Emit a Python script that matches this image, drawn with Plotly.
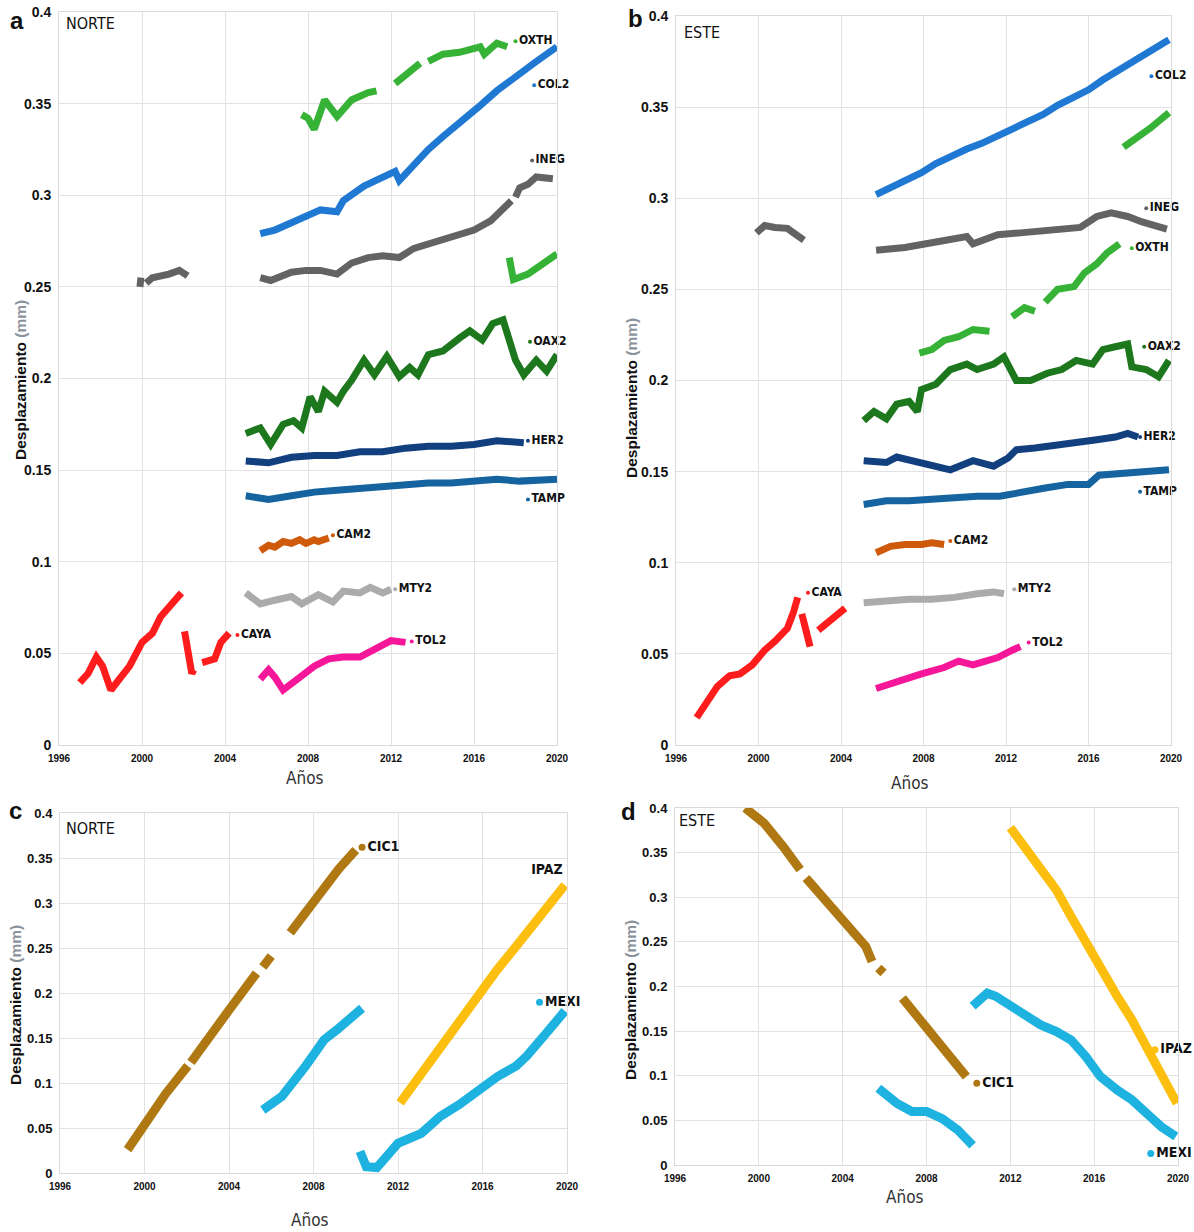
import plotly.graph_objects as go

# ---------------- axis ticks ----------------
YEAR_TICKS = [1996, 2000, 2004, 2008, 2012, 2016, 2020]
DISP_TICKS = [0, 0.05, 0.1, 0.15, 0.2, 0.25, 0.3, 0.35, 0.4]
DISP_TICK_TEXT = ["0", "0.05", "0.1", "0.15", "0.2", "0.25", "0.3", "0.35", "0.4"]

# ---------------- panel a (NORTE) ----------------
A_CAYA_YR = [1997.0, 1997.4, 1997.8, 1998.1, 1998.5, 1998.9, 1999.4, 2000.0, 2000.5, 2000.9, 2001.4, 2001.9,
             None, 2002.05, 2002.2, 2002.4, 2002.5, None, 2002.9, 2003.5, 2003.8, 2004.2]
A_CAYA_MM = [0.034, 0.039, 0.048, 0.043, 0.030, 0.036, 0.043, 0.056, 0.061, 0.070, 0.076, 0.083,
             None, 0.062, 0.050, 0.039, 0.041, None, 0.045, 0.047, 0.056, 0.061]
A_TOL2_YR = [2005.7, 2006.1, 2006.4, 2006.8, 2007.5, 2008.3, 2009.0, 2009.7, 2010.5, 2011.2, 2012.0, 2012.7]
A_TOL2_MM = [0.036, 0.041, 0.037, 0.030, 0.036, 0.043, 0.047, 0.048, 0.048, 0.052, 0.057, 0.056]
A_MTY2_YR = [2005.0, 2005.7, 2006.4, 2007.2, 2007.7, 2008.5, 2009.2, 2009.7, 2010.5, 2011.0, 2011.6, 2012.0]
A_MTY2_MM = [0.083, 0.077, 0.079, 0.081, 0.077, 0.082, 0.078, 0.084, 0.083, 0.086, 0.083, 0.085]
A_CAM2_YR = [2005.7, 2006.1, 2006.4, 2006.8, 2007.2, 2007.6, 2007.9, 2008.3, 2008.5, 2009.0]
A_CAM2_MM = [0.106, 0.109, 0.108, 0.111, 0.110, 0.112, 0.110, 0.112, 0.111, 0.113]
A_TAMP_YR = [2005.0, 2006.1, 2007.2, 2008.3, 2009.4, 2010.5, 2011.6, 2012.7, 2013.8, 2014.9, 2016.0, 2017.1, 2018.2, 2020.0]
A_TAMP_MM = [0.136, 0.134, 0.136, 0.138, 0.139, 0.140, 0.141, 0.142, 0.143, 0.143, 0.144, 0.145, 0.144, 0.145]
A_HER2_YR = [2005.0, 2006.1, 2007.2, 2008.3, 2009.4, 2010.5, 2011.6, 2012.7, 2013.8, 2014.9, 2016.0, 2017.1, 2018.4]
A_HER2_MM = [0.155, 0.154, 0.157, 0.158, 0.158, 0.160, 0.160, 0.162, 0.163, 0.163, 0.164, 0.166, 0.165]
A_OAX2_YR = [2005.0, 2005.7, 2006.2, 2006.8, 2007.3, 2007.7, 2008.1, 2008.5, 2008.8, 2009.4, 2009.7, 2010.1,
             2010.7, 2011.2, 2011.8, 2012.4, 2012.9, 2013.3, 2013.8, 2014.5, 2015.3, 2015.8, 2016.4, 2016.9,
             2017.4, 2017.7, 2018.0, 2018.4, 2019.0, 2019.5, 2020.0]
A_OAX2_MM = [0.170, 0.173, 0.164, 0.175, 0.177, 0.173, 0.190, 0.182, 0.193, 0.187, 0.193, 0.199,
             0.210, 0.202, 0.212, 0.201, 0.206, 0.202, 0.213, 0.215, 0.222, 0.226, 0.221, 0.230,
             0.232, 0.221, 0.210, 0.202, 0.210, 0.204, 0.213]
A_INEG_YR = [1999.9, 1999.95, None, 2000.2, 2000.5, 2001.3, 2001.8, 2002.2, None,
             2005.7, 2006.2, 2007.2, 2007.9, 2008.6, 2009.4, 2010.1, 2010.9, 2011.6, 2012.4, 2013.1, 2013.8,
             2014.5, 2015.3, 2016.0, 2016.8, 2017.3, 2017.8, None, 2018.0, 2018.2, 2018.6, 2019.0, 2019.8]
A_INEG_MM = [0.250, 0.255, None, 0.252, 0.255, 0.257, 0.259, 0.256, None,
             0.255, 0.2535, 0.258, 0.259, 0.259, 0.257, 0.263, 0.266, 0.267, 0.266, 0.271, 0.2735,
             0.275, 0.278, 0.281, 0.286, 0.292, 0.297, None, 0.299, 0.304, 0.306, 0.310, 0.309]
A_COL2_YR = [2005.7, 2006.4, 2007.2, 2007.9, 2008.6, 2009.4, 2009.7, 2010.7, 2011.6, 2012.2, 2012.4, 2013.1,
             2013.8, 2014.5, 2015.3, 2016.2, 2017.1, 2018.0, 2019.0, 2020.0]
A_COL2_MM = [0.279, 0.281, 0.285, 0.288, 0.292, 0.291, 0.297, 0.305, 0.310, 0.313, 0.308, 0.317,
             0.325, 0.332, 0.339, 0.348, 0.357, 0.365, 0.373, 0.381]
A_OXTH_YR = [2007.7, 2008.0, 2008.3, 2008.8, 2009.4, 2010.1, 2010.9, 2011.3, None,
             2012.2, 2012.7, 2013.4, None, 2013.8, 2014.5, 2015.3, 2016.3, 2016.5, 2017.1, 2017.6, None,
             2017.7, 2017.9, 2018.6, 2019.3, 2020.0]
A_OXTH_MM = [0.344, 0.342, 0.336, 0.352, 0.343, 0.352, 0.356, 0.357, None,
             0.361, 0.366, 0.372, None, 0.373, 0.377, 0.378, 0.381, 0.377, 0.383, 0.381, None,
             0.266, 0.254, 0.257, 0.263, 0.268]
A_LABEL_NAMES = ["OXTH", "COL2", "INEG", "OAX2", "HER2", "TAMP", "CAM2", "MTY2", "CAYA", "TOL2"]
A_LABEL_YR = [2018.0, 2018.9, 2018.8, 2018.7, 2018.6, 2018.6, 2009.2, 2012.2, 2004.6, 2013.0]
A_LABEL_MM = [0.384, 0.360, 0.319, 0.220, 0.166, 0.134, 0.1145, 0.085, 0.060, 0.0565]

# ---------------- panel b (ESTE) ----------------
B_CAYA_YR = [1997.0, 1997.5, 1998.0, 1998.6, 1999.1, 1999.7, 2000.3, 2000.8, 2001.4, 2001.7, 2001.9,
             None, 2002.1, 2002.3, 2002.5, None, 2002.9, 2003.4, 2003.9, 2004.2]
B_CAYA_MM = [0.015, 0.024, 0.032, 0.038, 0.039, 0.044, 0.052, 0.057, 0.064, 0.073, 0.081,
             None, 0.072, 0.063, 0.054, None, 0.063, 0.068, 0.072, 0.075]
B_TOL2_YR = [2005.7, 2006.7, 2007.9, 2009.0, 2009.7, 2010.4, 2011.6, 2012.3, 2012.7]
B_TOL2_MM = [0.031, 0.035, 0.039, 0.0425, 0.046, 0.044, 0.048, 0.052, 0.054]
B_MTY2_YR = [2005.1, 2006.2, 2007.3, 2008.4, 2009.5, 2010.6, 2011.4, 2011.9]
B_MTY2_MM = [0.078, 0.079, 0.080, 0.080, 0.081, 0.083, 0.084, 0.083]
B_CAM2_YR = [2005.7, 2006.4, 2007.1, 2007.9, 2008.4, 2009.0]
B_CAM2_MM = [0.1055, 0.109, 0.110, 0.110, 0.111, 0.110]
B_TAMP_YR = [2005.1, 2006.2, 2007.3, 2008.4, 2009.5, 2010.6, 2011.7, 2012.8, 2013.9, 2015.0, 2016.0, 2016.5,
             2017.5, 2018.6, 2019.9]
B_TAMP_MM = [0.132, 0.134, 0.134, 0.135, 0.136, 0.1365, 0.1365, 0.139, 0.141, 0.143, 0.143, 0.148,
             0.149, 0.150, 0.151]
B_HER2_YR = [2005.1, 2006.2, 2006.7, 2007.5, 2008.4, 2009.3, 2010.4, 2011.4, 2012.1, 2012.5, 2013.4, 2014.5,
             2015.4, 2016.4, 2017.3, 2017.9, 2018.4]
B_HER2_MM = [0.156, 0.155, 0.158, 0.156, 0.153, 0.151, 0.156, 0.153, 0.1575, 0.162, 0.163, 0.165,
             0.166, 0.1675, 0.169, 0.171, 0.169]
B_OAX2_YR = [2005.1, 2005.6, 2006.2, 2006.7, 2007.3, 2007.7, 2007.9, 2008.6, 2009.3, 2010.1, 2010.6, 2011.4,
             2011.9, 2012.2, 2012.5, 2013.2, 2014.0, 2014.7, 2015.4, 2016.2, 2016.7, 2017.3, 2017.9, 2018.1,
             2018.8, 2019.4, 2019.9]
B_OAX2_MM = [0.178, 0.183, 0.179, 0.187, 0.1885, 0.183, 0.195, 0.198, 0.206, 0.209, 0.206, 0.209,
             0.213, 0.206, 0.200, 0.200, 0.204, 0.206, 0.211, 0.209, 0.217, 0.2185, 0.220, 0.2075,
             0.206, 0.202, 0.211]
B_INEG_YR = [1999.9, 2000.3, 2000.8, 2001.4, 2001.7, 2002.2, None,
             2005.7, 2007.1, 2008.6, 2010.1, 2010.4, 2011.6, 2012.7, 2013.8, 2014.9, 2015.6, 2016.4, 2017.1,
             2017.9, 2018.6, 2019.8]
B_INEG_MM = [0.281, 0.285, 0.284, 0.2835, 0.281, 0.277, None,
             0.2715, 0.273, 0.276, 0.279, 0.275, 0.280, 0.281, 0.282, 0.283, 0.284, 0.290, 0.292,
             0.290, 0.287, 0.283]
B_COL2_YR = [2005.7, 2006.4, 2007.1, 2007.9, 2008.6, 2009.3, 2010.1, 2010.8, 2011.6, 2012.3, 2013.0, 2013.8,
             2014.5, 2015.3, 2016.0, 2016.7, 2017.5, 2018.2, 2019.0, 2019.9]
B_COL2_MM = [0.302, 0.306, 0.309, 0.314, 0.319, 0.323, 0.327, 0.330, 0.334, 0.3375, 0.342, 0.346,
             0.351, 0.356, 0.3595, 0.365, 0.3705, 0.375, 0.380, 0.387]
B_OXTH_YR = [2007.8, 2008.4, 2009.0, 2009.7, 2010.4, 2011.2, None, 2012.3, 2012.9, 2013.4, None,
             2013.9, 2014.5, 2015.3, 2015.8, 2016.4, 2016.9, 2017.5, None, 2017.7, 2018.2, 2019.0, 2019.9]
B_OXTH_MM = [0.215, 0.217, 0.222, 0.224, 0.228, 0.227, None, 0.235, 0.240, 0.238, None,
             0.243, 0.250, 0.2515, 0.259, 0.264, 0.270, 0.275, None, 0.328, 0.332, 0.3385, 0.347]
B_LABEL_NAMES = ["COL2", "INEG", "OXTH", "OAX2", "HER2", "TAMP", "CAM2", "MTY2", "CAYA", "TOL2"]
B_LABEL_YR = [2019.05, 2018.8, 2018.1, 2018.7, 2018.5, 2018.5, 2009.3, 2012.4, 2002.4, 2013.1]
B_LABEL_MM = [0.367, 0.2945, 0.2725, 0.2185, 0.169, 0.139, 0.112, 0.0854, 0.0836, 0.0562]

# ---------------- panel c (NORTE) ----------------
C_CIC1_YR = [1999.2, 2000.0, 2001.0, 2002.05, None, 2002.2, 2003.0, 2004.0, 2005.3, None, 2005.6, 2006.0, None,
             2006.9, 2007.5, 2008.4, 2009.2, 2010.0]
C_CIC1_MM = [0.026, 0.055, 0.088, 0.119, None, 0.123, 0.150, 0.181, 0.222, None, 0.229, 0.241, None,
             0.267, 0.286, 0.315, 0.338, 0.359]
C_MEXI_YR = [2005.6, 2006.5, 2007.6, 2008.5, 2009.1, 2010.3, None,
             2010.2, 2010.5, 2011.0, 2011.3, 2012.0, 2013.1, 2014.0, 2014.9, 2015.8, 2016.7, 2017.6, 2018.1,
             2018.9, 2019.4, 2019.9]
C_MEXI_MM = [0.070, 0.085, 0.118, 0.148, 0.159, 0.183, None,
             0.024, 0.007, 0.006, 0.015, 0.033, 0.044, 0.063, 0.076, 0.093, 0.107, 0.119, 0.130,
             0.152, 0.167, 0.180]
C_IPAZ_YR = [2012.1, 2013.1, 2014.0, 2014.9, 2016.0, 2016.7, 2017.6, 2018.5, 2019.2, 2019.9]
C_IPAZ_MM = [0.078, 0.111, 0.141, 0.167, 0.204, 0.226, 0.252, 0.278, 0.300, 0.320]
C_LABEL_NAMES = ["CIC1", "MEXI"]
C_LABEL_YR = [2010.3, 2018.7]
C_LABEL_MM = [0.362, 0.1896]
C_IPAZ_TITLE_YR = [2019.05]
C_IPAZ_TITLE_MM = [0.336]

# ---------------- panel d (ESTE) ----------------
D_CIC1_YR = [1999.35, 2000.25, 2001.15, 2001.97, None, 2002.25, 2003.3, 2004.4, 2005.1, 2005.4, None,
             2005.7, 2005.95, None, 2006.85, 2007.85, 2008.75, 2009.9]
D_CIC1_MM = [0.400, 0.383, 0.357, 0.331, None, 0.3215, 0.2935, 0.2636, 0.245, 0.228, None,
             0.2206, 0.215, None, 0.187, 0.159, 0.1327, 0.099]
D_MEXI_YR = [2005.7, 2006.6, 2007.3, 2008.0, 2008.75, 2009.5, 2010.2, None,
             2010.2, 2010.55, 2010.9, 2011.3, 2012.0, 2012.7, 2013.45, 2014.2, 2014.9, 2015.6, 2016.3, 2017.1,
             2017.8, 2018.5, 2019.2, 2019.9]
D_MEXI_MM = [0.086, 0.069, 0.060, 0.060, 0.052, 0.039, 0.022, None,
             0.178, 0.187, 0.1925, 0.189, 0.178, 0.166, 0.157, 0.1495, 0.140, 0.1215, 0.099, 0.084,
             0.073, 0.058, 0.043, 0.032]
D_IPAZ_YR = [2012.0, 2012.7, 2013.45, 2014.2, 2014.9, 2015.6, 2016.3, 2017.1, 2017.8, 2018.5, 2019.2, 2019.95]
D_IPAZ_MM = [0.378, 0.357, 0.331, 0.308, 0.2785, 0.2486, 0.2187, 0.1888, 0.1626, 0.1327, 0.099, 0.069]
D_LABEL_NAMES = ["IPAZ", "CIC1", "MEXI"]
D_LABEL_YR = [2018.9, 2010.4, 2018.7]
D_LABEL_MM = [0.129, 0.0916, 0.013]

# ---------------- styles ----------------
COLORS = {
    "OXTH": "#36b336", "COL2": "#1f78d2", "INEG": "#636363", "OAX2": "#1d771d",
    "HER2": "#12407f", "TAMP": "#15649f", "CAM2": "#cf5a0c", "MTY2": "#ababab",
    "CAYA": "#ff1c1c", "TOL2": "#f5169a", "CIC1": "#b07812", "MEXI": "#1eb2e0",
    "IPAZ": "#fcbf10",
}
FONT = "Liberation Sans Narrow, DejaVu Sans Condensed, Arial Narrow, Liberation Sans, Arial, sans-serif"
BOLDFONT = "Liberation Sans, Arial, sans-serif"
W, H = 1194, 1232

panels = {
    "a": dict(ax="", series=[("OXTH", A_OXTH_YR, A_OXTH_MM), ("COL2", A_COL2_YR, A_COL2_MM),
                              ("INEG", A_INEG_YR, A_INEG_MM), ("OAX2", A_OAX2_YR, A_OAX2_MM),
                              ("HER2", A_HER2_YR, A_HER2_MM), ("TAMP", A_TAMP_YR, A_TAMP_MM),
                              ("CAM2", A_CAM2_YR, A_CAM2_MM), ("MTY2", A_MTY2_YR, A_MTY2_MM),
                              ("CAYA", A_CAYA_YR, A_CAYA_MM), ("TOL2", A_TOL2_YR, A_TOL2_MM)],
              labels=(A_LABEL_NAMES, A_LABEL_YR, A_LABEL_MM), lw=7, dot=4, lsize=12, tsize=14,
              px=(59, 557), py=(12, 745)),
    "b": dict(ax="2", series=[("OXTH", B_OXTH_YR, B_OXTH_MM), ("COL2", B_COL2_YR, B_COL2_MM),
                               ("INEG", B_INEG_YR, B_INEG_MM), ("OAX2", B_OAX2_YR, B_OAX2_MM),
                               ("HER2", B_HER2_YR, B_HER2_MM), ("TAMP", B_TAMP_YR, B_TAMP_MM),
                               ("CAM2", B_CAM2_YR, B_CAM2_MM), ("MTY2", B_MTY2_YR, B_MTY2_MM),
                               ("CAYA", B_CAYA_YR, B_CAYA_MM), ("TOL2", B_TOL2_YR, B_TOL2_MM)],
              labels=(B_LABEL_NAMES, B_LABEL_YR, B_LABEL_MM), lw=7, dot=4, lsize=12, tsize=14,
              px=(676, 1171), py=(16, 745)),
    "c": dict(ax="3", series=[("CIC1", C_CIC1_YR, C_CIC1_MM), ("MEXI", C_MEXI_YR, C_MEXI_MM),
                               ("IPAZ", C_IPAZ_YR, C_IPAZ_MM)],
              labels=(C_LABEL_NAMES, C_LABEL_YR, C_LABEL_MM), lw=9, dot=7, lsize=14, tsize=13,
              px=(60, 567), py=(813, 1173)),
    "d": dict(ax="4", series=[("CIC1", D_CIC1_YR, D_CIC1_MM), ("MEXI", D_MEXI_YR, D_MEXI_MM),
                               ("IPAZ", D_IPAZ_YR, D_IPAZ_MM)],
              labels=(D_LABEL_NAMES, D_LABEL_YR, D_LABEL_MM), lw=9, dot=7, lsize=14, tsize=13,
              px=(675, 1178), py=(808, 1165)),
}

fig = go.Figure()
layout_axes = {}
for key, p in panels.items():
    ax = p["ax"]
    xref, yref = "x" + ax, "y" + ax
    for name, xs, ys in p["series"]:
        fig.add_trace(go.Scatter(x=xs, y=ys, mode="lines", xaxis=xref, yaxis=yref,
                                 line=dict(color=COLORS[name], width=p["lw"]),
                                 connectgaps=False, showlegend=False, hoverinfo="skip"))
    names, lx, ly = p["labels"]
    fig.add_trace(go.Scatter(x=lx, y=ly, mode="markers+text", xaxis=xref, yaxis=yref,
                             text=["<b>%s</b>" % n for n in names], textposition="middle right",
                             textfont=dict(family=FONT, size=p["lsize"], color="#111111"),
                             marker=dict(color=[COLORS[n] for n in names], size=p["dot"]),
                             cliponaxis=False, showlegend=False, hoverinfo="skip"))
    x0, x1 = p["px"]
    y0, y1 = p["py"]
    common = dict(showgrid=True, gridcolor="#e2e2e2", gridwidth=1, zeroline=False, automargin=False,
                  showline=True, mirror=True, linecolor="#dadada", linewidth=1, ticks="")
    layout_axes["xaxis" + ax] = dict(domain=[x0 / W, x1 / W], anchor=yref, range=[1996, 2020],
                                     tickvals=YEAR_TICKS, ticktext=["<b>%d</b>" % t for t in YEAR_TICKS],
                                     ticklabelstandoff=4,
                                     tickfont=dict(family=BOLDFONT, size=10, color="#111111"),
                                     **common)
    layout_axes["yaxis" + ax] = dict(domain=[1 - y1 / H, 1 - y0 / H], anchor=xref, range=[0, 0.4],
                                     tickvals=DISP_TICKS, ticktext=["<b>%s</b>" % t for t in DISP_TICK_TEXT],
                                     ticklabelstandoff=4,
                                     tickfont=dict(family=BOLDFONT, size=p["tsize"], color="#111111"),
                                     **common)

# IPAZ title in panel c (text only)
fig.add_trace(go.Scatter(x=C_IPAZ_TITLE_YR, y=C_IPAZ_TITLE_MM, mode="text", xaxis="x3", yaxis="y3",
                         text=["<b>IPAZ</b>"], textposition="middle center", cliponaxis=False,
                         textfont=dict(family=FONT, size=14, color="#111111"),
                         showlegend=False, hoverinfo="skip"))

annotations = []
def ann(text, px, py, size, angle=0, xanchor="center", color="#111111", family=FONT):
    annotations.append(dict(text=text, x=px / W, y=1 - py / H, xref="paper", yref="paper",
                            showarrow=False, textangle=angle, xanchor=xanchor, yanchor="middle",
                            font=dict(family=family, size=size, color=color)))

ytitle = "<b>Desplazamiento</b> <b><span style='color:#8a929c'>(mm)</span></b>"
ann(ytitle, 20, 380, 15.5, angle=-90, family=BOLDFONT)
ann(ytitle, 631, 398, 15.5, angle=-90, family=BOLDFONT)
ann(ytitle, 15, 1005, 15.5, angle=-90, family=BOLDFONT)
ann(ytitle, 630, 1000, 15.5, angle=-90, family=BOLDFONT)
ann("Años", 305, 778, 17, color="#333333")
ann("Años", 910, 783, 17, color="#333333")
ann("Años", 310, 1220, 17, color="#333333")
ann("Años", 905, 1197, 17, color="#333333")
for letter, lx, ly in [("a", 17, 20), ("b", 635, 18), ("c", 15, 810), ("d", 628, 811)]:
    ann("<b>%s</b>" % letter, lx, ly, 24, family=BOLDFONT)
ann("NORTE", 64, 24, 16, xanchor="left")
ann("ESTE", 682, 32, 16, xanchor="left")
ann("NORTE", 64, 828, 16, xanchor="left")
ann("ESTE", 677, 820, 16, xanchor="left")

fig.update_layout(template="none", width=W, height=H, margin=dict(l=0, r=0, t=0, b=0, autoexpand=False),
                  paper_bgcolor="white", plot_bgcolor="white", showlegend=False,
                  annotations=annotations, **layout_axes)

fig.write_html("out.html", config={"displayModeBar": False},
               post_script="document.body.style.margin='0';")
